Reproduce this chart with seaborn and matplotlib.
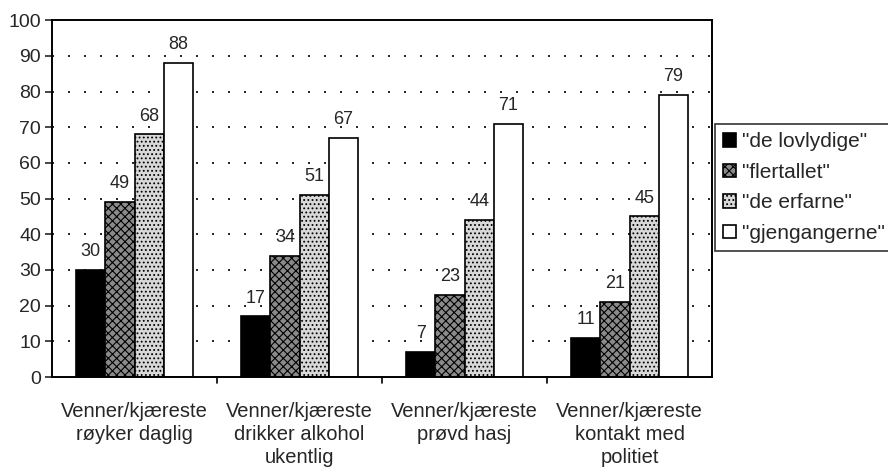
import matplotlib
matplotlib.use("Agg")
import matplotlib.pyplot as plt
import seaborn as sns
import pandas as pd

categories = [
    "Venner/kjæreste\nrøyker daglig",
    "Venner/kjæreste\ndrikker alkohol\nukentlig",
    "Venner/kjæreste\nprøvd hasj",
    "Venner/kjæreste\nkontakt med\npolitiet",
]
groups = ['"de lovlydige"', '"flertallet"', '"de erfarne"', '"gjengangerne"']
lovlydige = [30, 17, 7, 11]
flertallet = [49, 34, 23, 21]
erfarne = [68, 51, 44, 45]
gjengangerne = [88, 67, 71, 79]
yticks = list(range(0, 101, 10))

series = [lovlydige, flertallet, erfarne, gjengangerne]
df = pd.DataFrame(
    [(c, g, v) for g, vals in zip(groups, series) for c, v in zip(categories, vals)],
    columns=["kategori", "gruppe", "andel"],
)

sns.set_style("white")
plt.rcParams["font.family"] = ["Liberation Sans", "DejaVu Sans"]
plt.rcParams["hatch.color"] = "black"
plt.rcParams["hatch.linewidth"] = 0.8

fig = plt.figure(figsize=(8.88, 4.68), dpi=100)
ax = fig.add_axes([0.0586, 0.1944, 0.7432, 0.7626])

faces = ["black", "#8a8a8a", "#d8d8d8", "white"]
hatches = [None, "xxxx", "....", None]

sns.barplot(data=df, x="kategori", y="andel", hue="gruppe", hue_order=groups,
            order=categories, palette=faces, width=0.71, gap=0,
            edgecolor="black", linewidth=1.2, saturation=1, ax=ax, legend=True)

for cont, h in zip(ax.containers, hatches):
    for bar in cont:
        if h:
            bar.set_hatch(h)
    ax.bar_label(cont, fmt="%d", padding=7, fontsize=13)

ax.set_ylim(0, 100)
ax.set_xlim(-0.5, 3.5)
ax.set_yticks(yticks)
ax.set_yticklabels([str(t) for t in yticks], fontsize=14)
ax.set_xticks(range(len(categories)))
ax.set_xticklabels(categories, fontsize=14.5, linespacing=1.28)
ax.tick_params(axis="x", length=0, pad=18)
ax.tick_params(axis="y", left=True, length=5, width=1.2, direction="out", pad=3)
ax.set_xlabel("")
ax.set_ylabel("")

# boundary ticks between categories
for xb in [0.5, 1.5, 2.5]:
    ax.plot([xb, xb], [0, -0.018], transform=ax.get_xaxis_transform(),
            color="black", lw=1.2, clip_on=False)

for y in yticks[1:-1]:
    ax.axhline(y, color="black", lw=1.2, linestyle=(0, (1.2, 8.4)), zorder=0)

for s in ax.spines.values():
    s.set_visible(True)
    s.set_color("black")
    s.set_linewidth(1.4)

leg = ax.legend(loc="upper left", bbox_to_anchor=(715 / 888, 1 - 124 / 468),
                bbox_transform=fig.transFigure, frameon=True, fancybox=False,
                edgecolor="black", fontsize=15, handlelength=0.6,
                handleheight=0.6, handletextpad=0.3, labelspacing=0.55,
                borderaxespad=0, borderpad=0.4)
leg.get_frame().set_linewidth(1.2)
for p, h in zip(leg.get_patches(), hatches):
    p.set_edgecolor("black")
    if h:
        p.set_hatch(h)

fig.savefig("out.png", dpi=100)
